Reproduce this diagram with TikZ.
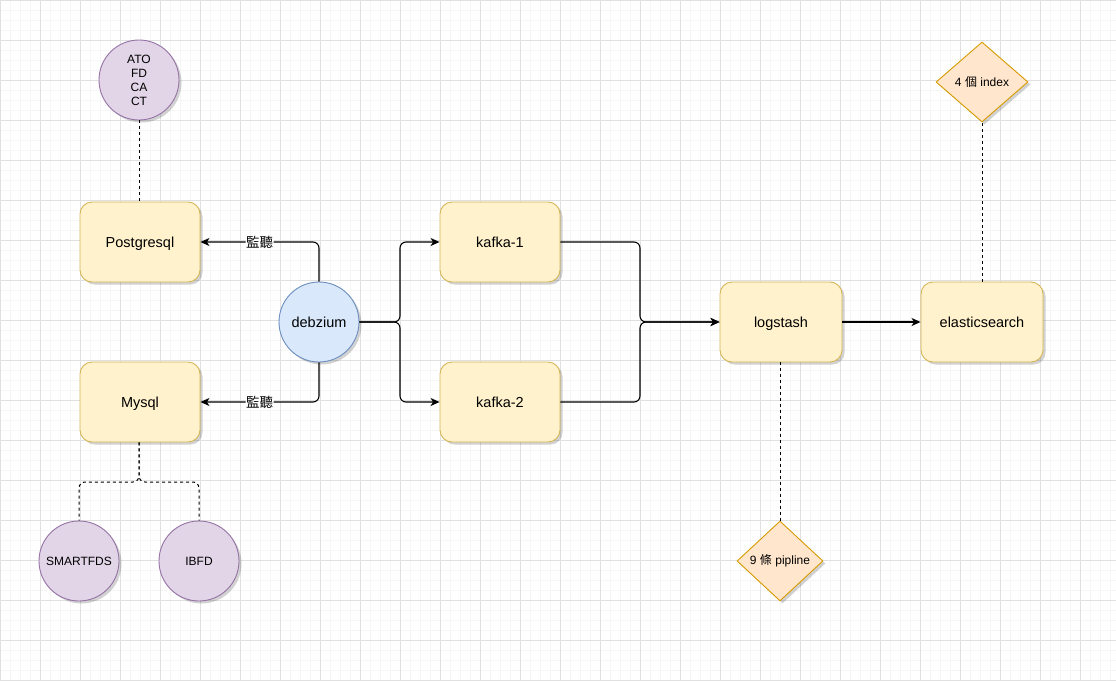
\documentclass[tikz,border=0pt]{standalone}
\usepackage{fontspec}
\setmainfont{Liberation Sans}
\newfontfamily\cjk{Noto Sans CJK TC}
\usetikzlibrary{arrows.meta,shapes.geometric,shadows}
\definecolor{yfill}{HTML}{FFF2CC}
\definecolor{ystroke}{HTML}{D6B656}
\definecolor{pfill}{HTML}{E1D5E7}
\definecolor{pstroke}{HTML}{9673A6}
\definecolor{bfill}{HTML}{DAE8FC}
\definecolor{bstroke}{HTML}{6C8EBF}
\definecolor{ofill}{HTML}{FFE6CC}
\definecolor{ostroke}{HTML}{D79B00}
\definecolor{gridminor}{HTML}{F6F6F6}
\definecolor{gridmajor}{HTML}{E0E0E0}
\tikzset{
  shd/.style={drop shadow={shadow xshift=2.5pt, shadow yshift=-2.5pt, opacity=0.25, fill=black!70}},
  box/.style={shd, draw=ystroke, fill=yfill, rounded corners=12pt, minimum width=120pt, minimum height=80pt, line width=0.9pt, text height=10pt, text depth=0pt, font=\fontsize{14.5}{17}\selectfont},
  pcircle/.style={shd, circle, draw=pstroke, fill=pfill, minimum size=80pt, inner sep=0pt, line width=0.9pt, align=center, font=\fontsize{12}{14}\selectfont},
  bcircle/.style={shd, circle, draw=bstroke, fill=bfill, minimum size=80pt, inner sep=0pt, line width=0.9pt, text height=10pt, text depth=0pt, font=\fontsize{14.5}{17}\selectfont},
  odiamond/.style={shd, diamond, draw=ostroke, fill=ofill, inner sep=0pt, line width=0.9pt, font=\fontsize{12}{14}\selectfont},
  conn/.style={line width=1.1pt, rounded corners=6pt, -{Stealth[length=9pt, width=8pt, inset=2.5pt]}},
  dconn/.style={line width=1pt, dashed, dash pattern=on 3pt off 3pt, rounded corners=6pt},
  lbl/.style={fill=white, inner sep=0.5pt, font=\cjk\fontsize{13.5}{15}\selectfont}
}
\begin{document}
\begin{tikzpicture}[x=1pt, y=-1pt]
\useasboundingbox (0,0) rectangle (1116,680);
\fill[white] (0,0) rectangle (1116,680);
\draw[gridminor, line width=0.7pt, step=10pt] (0,0) grid (1116,680);
\draw[gridmajor, line width=0.8pt, step=40pt] (0,0) grid (1116,680);

\node[pcircle] (ato) at (139,80) {ATO\\FD\\CA\\CT};
\node[box] (pg) at (140,242) {Postgresql};
\node[box] (my) at (140,402) {Mysql};
\node[bcircle] (deb) at (319,322) {debzium};
\node[box] (k1) at (500,242) {kafka-1};
\node[box] (k2) at (500,402) {kafka-2};
\node[box, minimum width=122pt] (ls) at (781,322) {logstash};
\node[box, minimum width=122pt] (es) at (982,322) {elasticsearch};
\node[odiamond, minimum width=92pt, minimum height=80pt] (idx) at (982,82) {4 {\cjk 個} index};
\node[odiamond, minimum width=86pt, minimum height=80pt] (pip) at (780,561) {9 {\cjk 條} pipline};
\node[pcircle] (smart) at (79,561) {SMARTFDS};
\node[pcircle] (ibfd) at (199,561) {IBFD};

\draw[dconn] (ato.south) -- (pg.north -| ato.south);
\draw[conn] (deb.north) |- node[lbl, pos=0.75] {監聽} (pg.east);
\draw[conn] (deb.south) |- node[lbl, pos=0.75] {監聽} (my.east);
\coordinate (dj) at (400,322);
\draw[conn] (deb.east) -- (dj) |- (k1.west);
\draw[conn] (deb.east) -- (dj) |- (k2.west);
\coordinate (kj) at (640,322);
\draw[conn] (k1.east) -| (kj) -- (ls.west);
\draw[conn] (k2.east) -| (kj) -- (ls.west);
\draw[conn] (ls.east) -- (es.west);
\draw[dconn] (es.north) -- (idx.south);
\draw[dconn] (ls.south -| pip.north) -- (pip.north);
\coordinate (mj) at (139,482);
\draw[dconn] (my.south -| mj) -- (mj) -| (smart.north);
\draw[dconn] (my.south -| mj) -- (mj) -| (ibfd.north);
\end{tikzpicture}
\end{document}
